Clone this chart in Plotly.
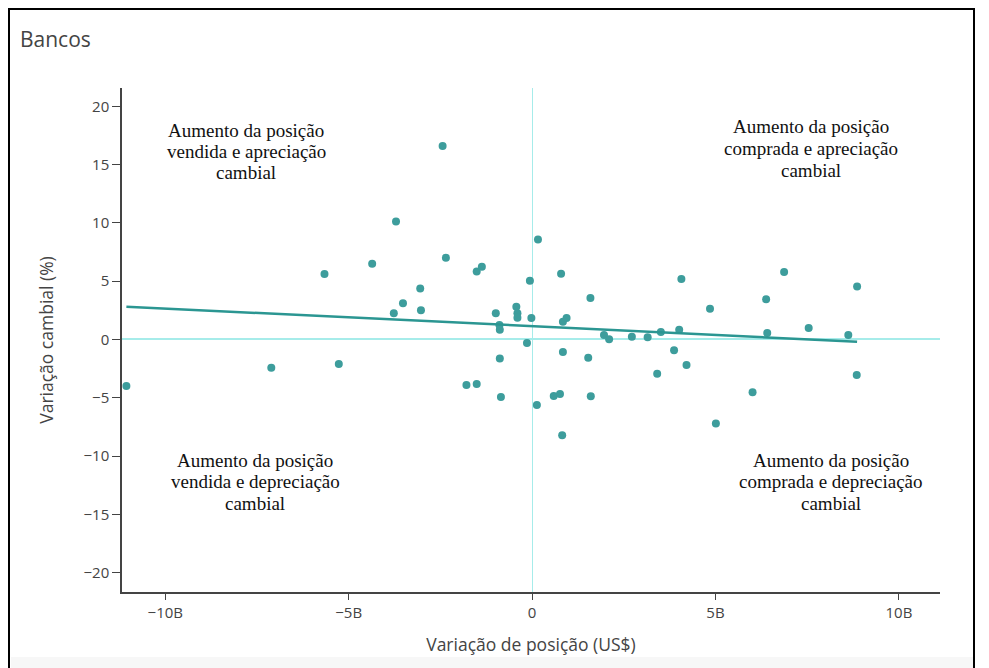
import plotly.graph_objects as go

# ---- data ----
pos_change_bn = [
    -11.06, -7.11, -5.27, -5.66, -4.36, -3.71, -3.77, -3.52, -3.05, -3.03,
    -2.44, -2.35, -1.51, -1.37, -0.99, -0.89, -0.88, -0.43, -0.40, -0.40,
    -0.06, -0.02, -0.14, 0.16, 0.79, 0.84, 0.94, 1.59, 1.96, 2.10,
    2.72, 3.15, 3.51, 4.01, 4.07, 3.87, 0.84, 1.53, 4.85, 6.38,
    6.87, 8.86, 6.41, 7.54, 8.62, -0.88, -1.79, -1.51, -0.85, 0.13,
    0.59, 0.76, 0.82, 1.60, 3.41, 4.21, 5.01, 6.01, 8.85,
]
fx_change_pct = [
    -3.98, -2.42, -2.10, 5.61, 6.49, 10.12, 2.24, 3.10, 4.38, 2.50,
    16.60, 7.01, 5.84, 6.24, 2.24, 1.24, 0.84, 2.81, 2.24, 1.87,
    5.04, 1.84, -0.30, 8.58, 5.64, 1.53, 1.84, 3.55, 0.39, 0.02,
    0.24, 0.19, 0.64, 0.84, 5.18, -0.93, -1.07, -1.56, 2.64, 3.44,
    5.78, 4.55, 0.56, 0.99, 0.39, -1.64, -3.90, -3.81, -4.93, -5.61,
    -4.84, -4.67, -8.21, -4.87, -2.93, -2.18, -7.21, -4.52, -3.04,
]
trend_x_bn = [-11.06, 8.86]
trend_y_pct = [2.81, -0.19]

title_text = "Bancos"
x_title = "Variação de posição (US$)"
y_title = "Variação cambial (%)"
quadrant_labels = {
    "tl": ["Aumento da posição", "vendida e apreciação", "cambial"],
    "tr": ["Aumento da posição", "comprada e apreciação", "cambial"],
    "bl": ["Aumento da posição", "vendida e depreciação", "cambial"],
    "br": ["Aumento da posição", "comprada e depreciação", "cambial"],
}

# ---- figure (page body has an 8px margin, so the figure starts at 8,8) ----
OFF = 8
W, H = 989 - OFF, 668 - OFF
ML, MR, MT, MB = 122 - OFF, 49, 88 - OFF, 76
PW, PH = W - ML - MR, H - MT - MB


def px_to_paper(px, py):
    """Convert page pixel coordinates to paper coordinates."""
    fx, fy = px - OFF, py - OFF
    return (fx - ML) / PW, (H - MB - fy) / PH


fig = go.Figure()
fig.add_trace(go.Scatter(
    x=[v * 1e9 for v in pos_change_bn], y=fx_change_pct, mode="markers",
    marker=dict(color="#3d9d9c", size=8), showlegend=False, hoverinfo="x+y",
))
fig.add_trace(go.Scatter(
    x=[v * 1e9 for v in trend_x_bn], y=trend_y_pct, mode="lines",
    line=dict(color="#2b9692", width=2.5), showlegend=False, hoverinfo="skip",
))

annotations = []
centers = {"tl": (246, [130, 151.5, 173]), "tr": (811, [127, 148.5, 170.5]),
           "bl": (255, [460, 481.5, 503]), "br": (831, [460, 481.5, 503])}
for key, lines in quadrant_labels.items():
    cx, ys = centers[key]
    for txt, py in zip(lines, ys):
        ax, ay = px_to_paper(cx, py)
        annotations.append(dict(
            text=txt, x=ax, y=ay, xref="paper", yref="paper", showarrow=False,
            xanchor="center", yanchor="middle",
            font=dict(family="Liberation Serif, Times New Roman, serif", size=19, color="#111111"),
        ))

fx0, fy0 = px_to_paper(9, 690)
fx1, fy1 = px_to_paper(974, 9)
gx0, gy0 = px_to_paper(11, 690)
gx1, gy1 = px_to_paper(973, 657)
shapes = [
    dict(type="rect", xref="paper", yref="paper", x0=gx0, x1=gx1, y0=gy0, y1=gy1,
         fillcolor="#f7f7f7", line=dict(width=0), layer="below"),
    dict(type="rect", xref="paper", yref="paper", x0=fx0, x1=fx1, y0=fy0, y1=fy1,
         line=dict(color="#000000", width=2), fillcolor="rgba(0,0,0,0)", layer="above"),
]

fig.update_layout(
    width=W, height=H,
    margin=dict(l=ML, r=MR, t=MT, b=MB, autoexpand=False),
    paper_bgcolor="white", plot_bgcolor="white",
    font=dict(family="Open Sans, sans-serif", color="#444444"),
    title=dict(text=title_text, x=(20 - OFF) / W, xanchor="left", xref="container",
               y=1 - (40 - OFF) / H, yanchor="middle", yref="container",
               font=dict(size=21, color="#444444")),
    annotations=annotations,
    shapes=shapes,
    xaxis=dict(
        range=[-11.18e9, 11.12e9], dtick=5e9, tick0=0, showgrid=False,
        zeroline=True, zerolinecolor="#a6ecea", zerolinewidth=1.2,
        showline=True, linecolor="#444444", linewidth=1.5,
        ticks="outside", ticklen=6, tickcolor="#444444", tickwidth=1,
        tickfont=dict(size=15, color="#444444"), exponentformat="B",
        title=dict(text=x_title, font=dict(size=17.5, color="#444444"), standoff=18),
        automargin=False,
    ),
    yaxis=dict(
        range=[-21.66, 21.57], dtick=5, tick0=0, showgrid=False,
        zeroline=True, zerolinecolor="#a6ecea", zerolinewidth=1.5,
        showline=True, linecolor="#444444", linewidth=1.5,
        ticks="outside", ticklen=8, tickcolor="#444444", tickwidth=1,
        tickfont=dict(size=15, color="#444444"),
        title=dict(text=y_title, font=dict(size=17.5, color="#444444"), standoff=25),
        automargin=False,
    ),
)

fig.write_html("out.html", config={"displayModeBar": False})
